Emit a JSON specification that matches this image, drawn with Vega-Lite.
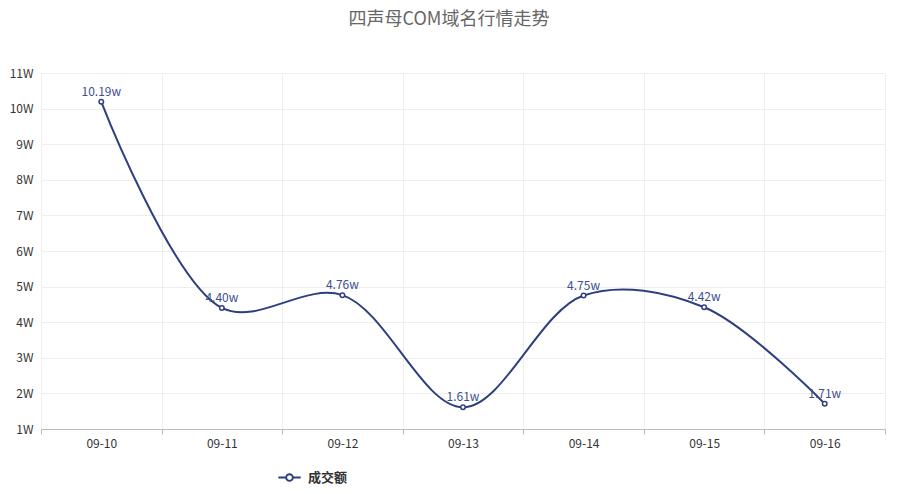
{
  "$schema": "https://vega.github.io/schema/vega-lite/v6.json",
  "width": 844,
  "height": 356,
  "autosize": {"type": "none"},
  "padding": {"left": 41, "top": 73, "right": 12, "bottom": 65},
  "background": "white",
  "title": {
    "text": "四声母COM域名行情走势",
    "font": "Noto Sans CJK SC",
    "fontSize": 18,
    "fontWeight": "normal",
    "color": "#666666",
    "anchor": "middle",
    "offset": 38,
    "dx": -14
  },
  "config": {
    "view": {"stroke": null},
    "font": "Noto Sans CJK SC"
  },
  "data": {
    "values": [
      {"date": "09-10", "value": 10.19, "label": "10.19w", "series": "成交额"},
      {"date": "09-11", "value": 4.40, "label": "4.40w", "series": "成交额"},
      {"date": "09-12", "value": 4.76, "label": "4.76w", "series": "成交额"},
      {"date": "09-13", "value": 1.61, "label": "1.61w", "series": "成交额"},
      {"date": "09-14", "value": 4.75, "label": "4.75w", "series": "成交额"},
      {"date": "09-15", "value": 4.42, "label": "4.42w", "series": "成交额"},
      {"date": "09-16", "value": 1.71, "label": "1.71w", "series": "成交额"}
    ]
  },
  "encoding": {
    "x": {
      "field": "date",
      "type": "ordinal",
      "scale": {"paddingInner": 0, "paddingOuter": 0},
      "axis": {
        "title": null,
        "labelAngle": 0,
        "tickBand": "extent",
        "grid": true,
        "gridColor": "#eeeeee",
        "domainColor": "#bbbbbb",
        "tickColor": "#bbbbbb",
        "tickSize": 5,
        "labelColor": "#333333",
        "labelFontSize": 12,
        "labelPadding": 4
      }
    },
    "y": {
      "field": "value",
      "type": "quantitative",
      "scale": {"domain": [1, 11], "nice": false, "zero": false},
      "axis": {
        "title": null,
        "values": [1, 2, 3, 4, 5, 6, 7, 8, 9, 10, 11],
        "labelExpr": "datum.value + 'W'",
        "ticks": false,
        "domain": false,
        "gridColor": "#eeeeee",
        "labelColor": "#333333",
        "labelFontSize": 12,
        "labelPadding": 8
      }
    }
  },
  "layer": [
    {
      "mark": {"type": "line", "interpolate": "catmull-rom", "strokeWidth": 2},
      "encoding": {
        "color": {
          "field": "series",
          "type": "nominal",
          "scale": {"range": ["#2e3f7f"]},
          "legend": {
            "title": null,
            "orient": "none",
            "legendX": 236,
            "legendY": 392,
            "symbolType": "M-1,0L-0.35,0M0.35,0L1,0M0.3,0A0.3,0.3 0 1,1 -0.3,0A0.3,0.3 0 1,1 0.3,0",
            "symbolSize": 500,
            "symbolStrokeWidth": 2,
            "symbolFillColor": "white",
            "symbolStrokeColor": "#2e3f7f",
            "labelFontSize": 13,
            "labelFontWeight": "bold",
            "labelColor": "#333333",
            "labelOffset": 6
          }
        }
      }
    },
    {
      "mark": {"type": "point", "filled": true, "fill": "white", "stroke": "#2e3f7f", "strokeWidth": 1.5, "size": 20, "opacity": 1}
    },
    {
      "mark": {"type": "text", "dy": -10, "fontSize": 12, "color": "#3d4f8f"},
      "encoding": {"text": {"field": "label"}}
    }
  ]
}
